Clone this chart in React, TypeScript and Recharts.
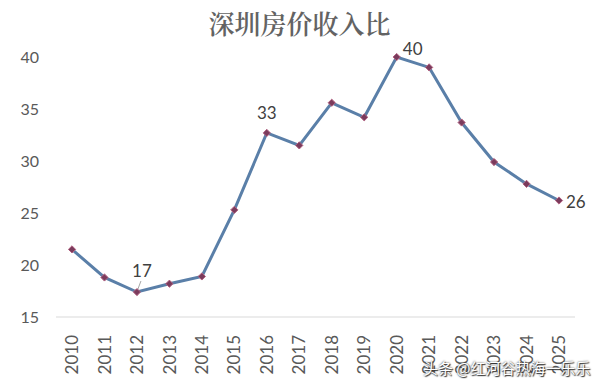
import React from "react";
import { LineChart, Line, XAxis, YAxis, LabelList } from "recharts";

const years = ["2010","2011","2012","2013","2014","2015","2016","2017","2018","2019","2020","2021","2022","2023","2024","2025"];
const ratio = [21.5, 18.8, 17.4, 18.2, 18.9, 25.3, 32.7, 31.5, 35.6, 34.2, 40.0, 39.0, 33.7, 29.9, 27.8, 26.2];
const yTicks = [15, 20, 25, 30, 35, 40];
const labeledYears = ["2012", "2016", "2020", "2025"];

const data = years.map((y, i) => ({ year: y, value: ratio[i] }));

const FONT = "Lato, 'Noto Sans', sans-serif";
const TEXT = "#595959";

const XTick = (props: any) => {
  const { x, y, payload } = props;
  return (
    <g transform={`translate(${x},${y})`}>
      <text transform="rotate(-90)" x={0} y={0} dy="0.36em" textAnchor="end" fill={TEXT} fontSize={17} fontFamily={FONT}>
        {payload.value}
      </text>
    </g>
  );
};

const Diamond = (props: any) => {
  const { cx, cy } = props;
  if (cx == null || cy == null) return null;
  const r = 3.6;
  return (
    <path
      d={`M${cx},${cy - r} L${cx + r},${cy} L${cx},${cy + r} L${cx - r},${cy} Z`}
      fill="#7A3B5C"
      stroke="#B0607F"
      strokeWidth={1}
    />
  );
};

const PointLabel = (props: any) => {
  const { x, y, value, index } = props;
  const yr = years[index];
  if (!labeledYears.includes(yr)) return null;
  const txt = String(Math.round(value));
  let tx = x, ty = y, anchor: "middle" | "start" = "middle";
  let leader: React.ReactNode = null;
  if (yr === "2012") {
    tx = x + 5; ty = y - 21;
    leader = <line x1={x + 1} y1={y - 3} x2={x + 4} y2={y - 11} stroke="#A6A6A6" strokeWidth={1} />;
  } else if (yr === "2016") {
    ty = y - 20;
  } else if (yr === "2020") {
    tx = x + 16; ty = y - 8;
  } else if (yr === "2025") {
    tx = x + 7; ty = y + 1; anchor = "start";
  }
  return (
    <g>
      {leader}
      <text x={tx} y={ty} dy="0.36em" textAnchor={anchor} fill="#404040" fontSize={17} fontFamily={FONT}>
        {txt}
      </text>
    </g>
  );
};

export default function App() {
  return (
    <div style={{ position: "absolute", left: 0, top: 0, width: 599, height: 389, background: "#fff" }}>
      <div
        style={{
          position: "absolute",
          left: 0,
          top: 6,
          width: 599,
          textAlign: "center",
          fontFamily: "'Noto Serif CJK SC', 'Noto Sans CJK SC', serif",
          fontSize: 26,
          fontWeight: 600,
          color: "#636363",
          lineHeight: "34px",
          letterSpacing: 0,
        }}
      >
        深圳房价收入比
      </div>
      <LineChart width={599} height={389} data={data} margin={{ top: 57, right: 24, bottom: 12, left: 0 }}>
        <XAxis
          dataKey="year"
          height={60}
          padding={{ left: 16, right: 16 }}
          axisLine={{ stroke: "#D9D9D9", strokeWidth: 1 }}
          tickLine={false}
          tickSize={0}
          tickMargin={18}
          interval={0}
          tick={<XTick />}
        />
        <YAxis
          width={56}
          domain={[15, 40]}
          ticks={yTicks}
          axisLine={false}
          tickLine={false}
          tickSize={0}
          tickMargin={17}
          tick={{ fill: TEXT, fontSize: 16, fontFamily: FONT }}
        />
        <Line
          type="linear"
          dataKey="value"
          stroke="#5A7FA8"
          strokeWidth={3}
          dot={<Diamond />}
          activeDot={false}
          isAnimationActive={false}
        >
          <LabelList dataKey="value" content={<PointLabel />} />
        </Line>
      </LineChart>
      <div
        style={{
          position: "absolute",
          left: 423,
          top: 358,
          fontFamily: "'Noto Sans CJK SC', sans-serif",
          fontSize: 15,
          color: "#ffffff",
          textShadow: "0 0 2px #333, 1px 1px 1px #333",
          whiteSpace: "nowrap",
          lineHeight: "20px",
        }}
      >
        头条 @红河谷热海一乐乐
      </div>
    </div>
  );
}
